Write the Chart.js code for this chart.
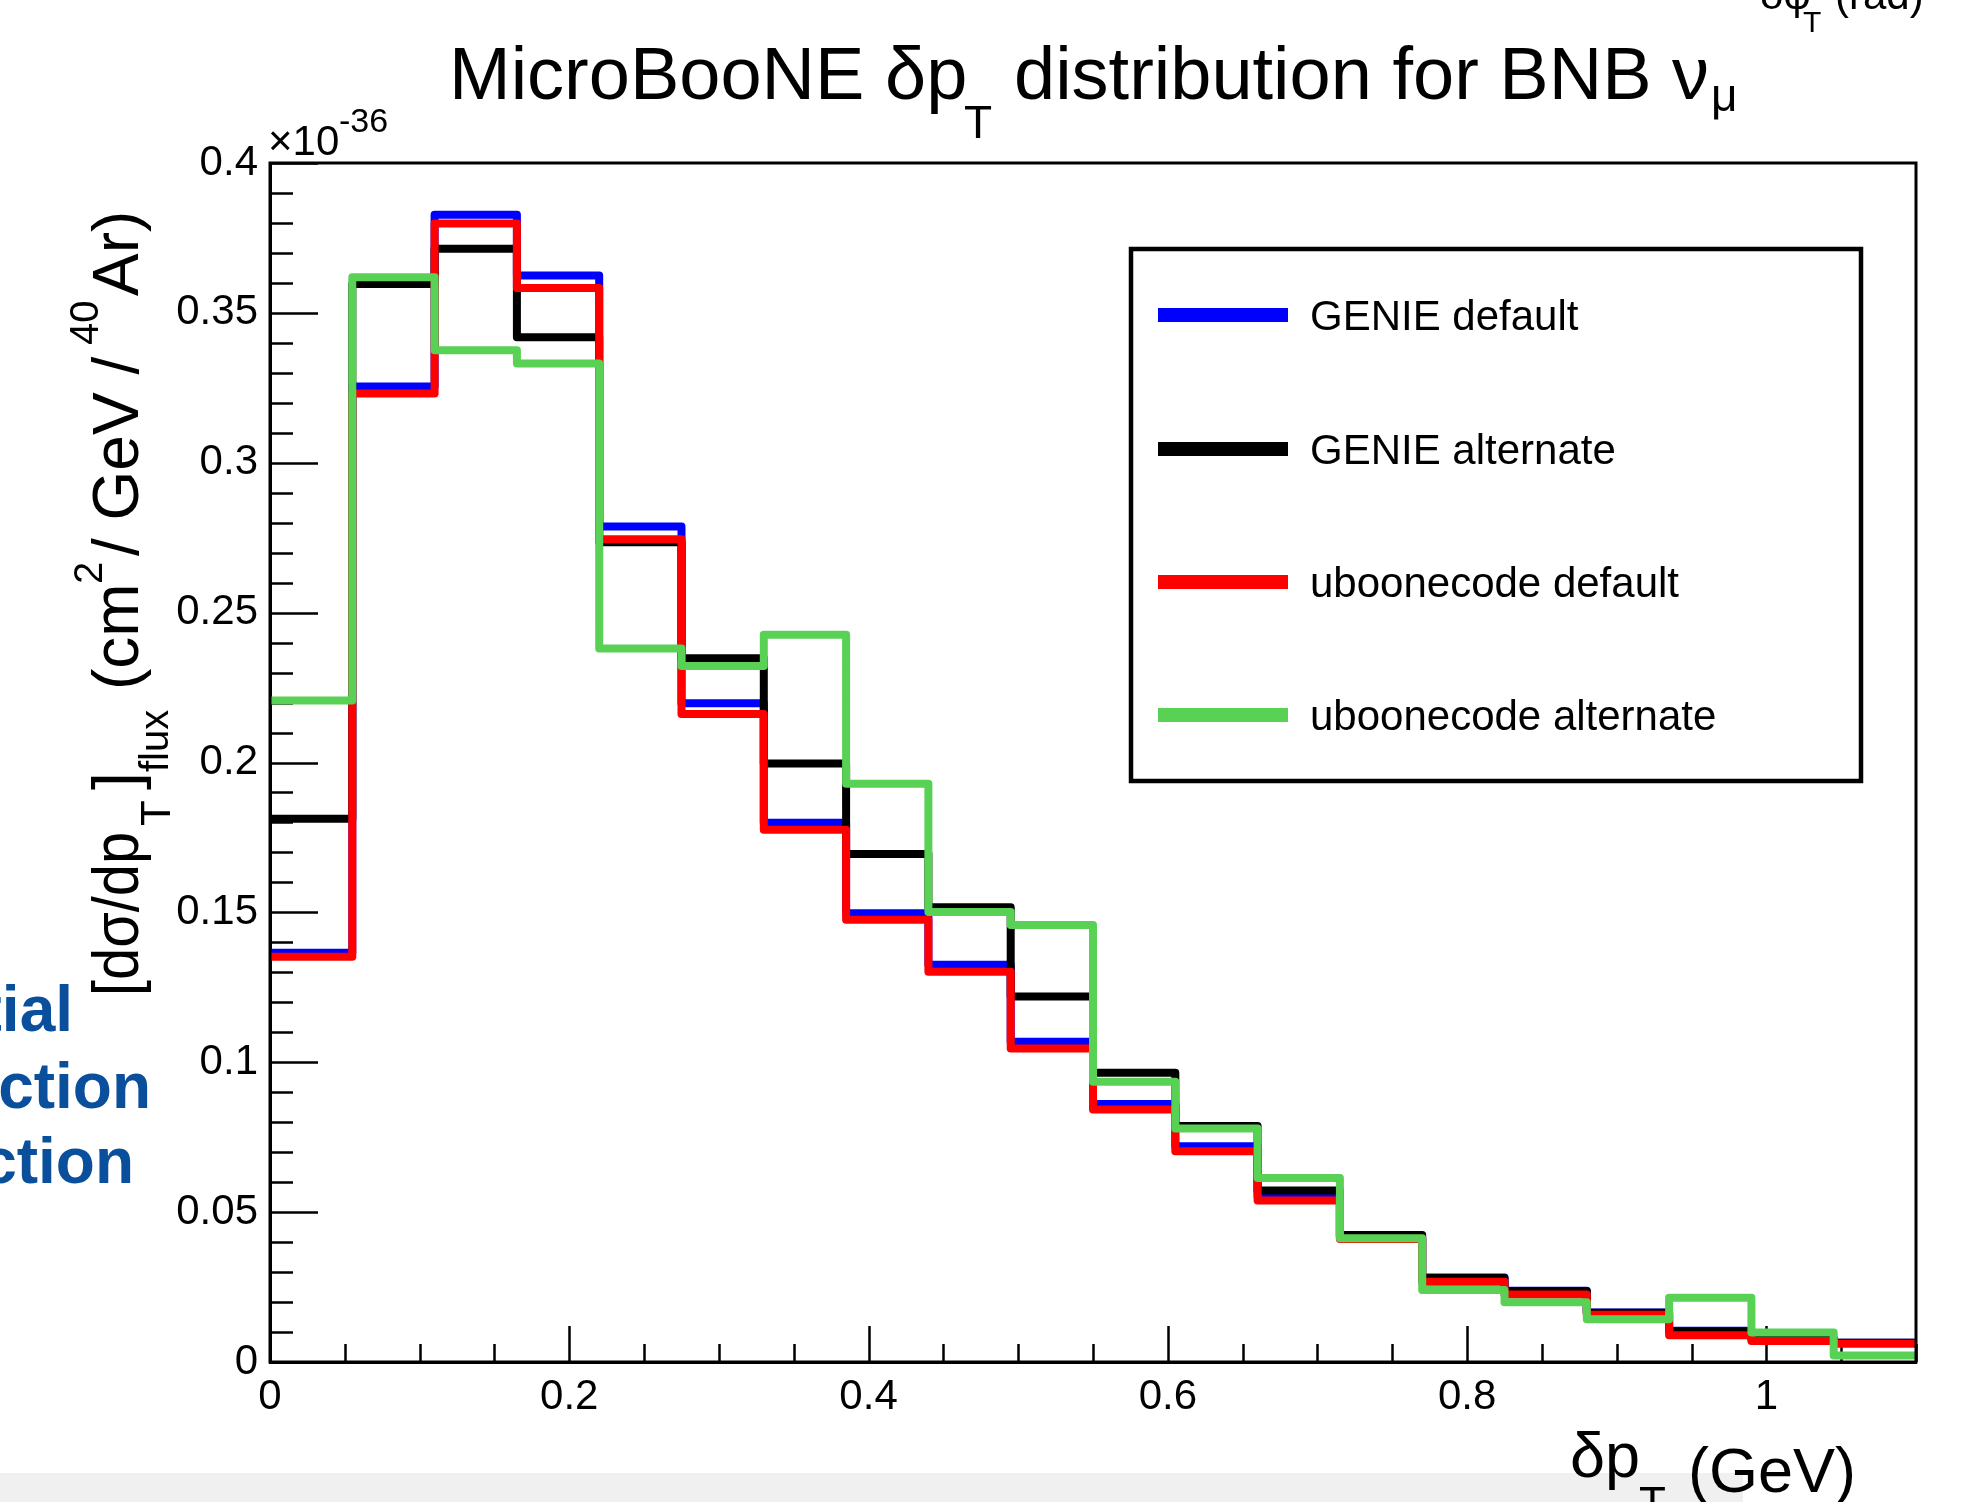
<!DOCTYPE html>
<html>
<head>
<meta charset="utf-8">
<script src="https://cdn.jsdelivr.net/npm/chart.js@4.4.1/dist/chart.umd.min.js"></script>
<style>
html,body{margin:0;padding:0;background:#fff;overflow:hidden}
#wrap{position:relative;width:1973px;height:1502px}
canvas{display:block}
</style>
</head>
<body>
<div id="wrap"><canvas id="c" width="1973" height="1502" style="width:1973px;height:1502px"></canvas></div>
<script>
// ---- data (units of 1e-36 cm^2 / GeV / 40Ar) ----
const binEdges = [0, 0.055, 0.11, 0.165, 0.22, 0.275, 0.33, 0.385, 0.44, 0.495, 0.55,
                  0.605, 0.66, 0.715, 0.77, 0.825, 0.88, 0.935, 0.99, 1.045, 1.1];
const genieDefault = [0.1365, 0.3254, 0.3827, 0.3625, 0.2787, 0.2198, 0.1799, 0.1497, 0.1325, 0.1068,
                      0.0861, 0.0720, 0.0552, 0.0415, 0.0282, 0.0238, 0.0165, 0.0104, 0.0078, 0.0064];
const genieAlternate = [0.1812, 0.3596, 0.3714, 0.3419, 0.2735, 0.2348, 0.1997, 0.1695, 0.1517, 0.1219,
                        0.0965, 0.0787, 0.0572, 0.0424, 0.0280, 0.0236, 0.0164, 0.0102, 0.0078, 0.0064];
const uboonecodeDefault = [0.1352, 0.3231, 0.3798, 0.3583, 0.2745, 0.2162, 0.1776, 0.1475, 0.1302, 0.1046,
                           0.0842, 0.0703, 0.0539, 0.0410, 0.0268, 0.0225, 0.0158, 0.0089, 0.0070, 0.0061];
const uboonecodeAlternate = [0.2207, 0.3619, 0.3375, 0.3331, 0.2380, 0.2322, 0.2426, 0.1929, 0.1501, 0.1458,
                             0.0935, 0.0779, 0.0614, 0.0413, 0.0240, 0.0199, 0.0143, 0.0214, 0.0098, 0.0022];
const seriesLabels = ['GENIE default', 'GENIE alternate', 'uboonecode default', 'uboonecode alternate'];
const xMajorValues = [0, 0.2, 0.4, 0.6, 0.8, 1];
const xTickLabels = ['0', '0.2', '0.4', '0.6', '0.8', '1'];
const yMajorValues = [0, 0.05, 0.1, 0.15, 0.2, 0.25, 0.3, 0.35, 0.4];
const yTickLabels = ['0', '0.05', '0.1', '0.15', '0.2', '0.25', '0.3', '0.35', '0.4'];

const FONT = '"Liberation Sans", Arial, Helvetica, sans-serif';
const colors = ['#0000ff', '#000000', '#ff0000', '#58d155'];

function histPoints(vals) {
  const pts = vals.map((v, i) => ({x: binEdges[i], y: v}));
  pts.push({x: binEdges[binEdges.length - 1], y: vals[vals.length - 1]});
  return pts;
}
function majorIndex(list, v) {
  for (let i = 0; i < list.length; i++) if (Math.abs(list[i] - v) < 1e-6) return i;
  return -1;
}

const seriesValues = [genieDefault, genieAlternate, uboonecodeDefault, uboonecodeAlternate];
const drawOrder = [3, 2, 1, 0]; // green on top, then red, black, blue
const datasets = seriesValues.map((vals, i) => ({
  label: seriesLabels[i],
  data: histPoints(vals),
  borderColor: colors[i],
  backgroundColor: colors[i],
  borderWidth: 8,
  stepped: 'before',
  pointRadius: 0,
  pointHoverRadius: 0,
  fill: false,
  tension: 0,
  borderJoinStyle: 'round',
  order: drawOrder[i]
}));

function txt(ctx, t, x, y, size, opts) {
  opts = opts || {};
  ctx.font = (opts.bold ? 'bold ' : '') + size + 'px ' + FONT;
  ctx.fillStyle = opts.color || '#000';
  ctx.textAlign = opts.align || 'left';
  ctx.textBaseline = 'alphabetic';
  if (opts.maxWidth) ctx.fillText(t, x, y, opts.maxWidth);
  else ctx.fillText(t, x, y);
}

const rootDecor = {
  id: 'rootDecor',
  beforeDraw(chart) {
    const ctx = chart.ctx;
    ctx.save();
    ctx.fillStyle = '#ffffff';
    ctx.fillRect(0, 0, chart.width, chart.height);
    ctx.restore();
  },
  beforeDatasetsDraw(chart) {
    const ctx = chart.ctx, ca = chart.chartArea;
    const xs = chart.scales.x, ys = chart.scales.y;
    ctx.save();
    ctx.strokeStyle = '#000';
    ctx.lineWidth = 2.5;
    ctx.beginPath();
    ys.ticks.forEach(t => {
      const p = Math.round(ys.getPixelForValue(t.value)) + 0.5;
      const len = majorIndex(yMajorValues, t.value) >= 0 ? 48 : 23;
      ctx.moveTo(ca.left, p); ctx.lineTo(ca.left + len, p);
    });
    xs.ticks.forEach(t => {
      const p = Math.round(xs.getPixelForValue(t.value)) + 0.5;
      const len = majorIndex(xMajorValues, t.value) >= 0 ? 36 : 18;
      ctx.moveTo(p, ca.bottom); ctx.lineTo(p, ca.bottom - len);
    });
    ctx.stroke();
    ctx.restore();
  },
  afterDraw(chart) {
    const ctx = chart.ctx, ca = chart.chartArea;
    ctx.save();
    // frame
    ctx.strokeStyle = '#000';
    ctx.lineWidth = 3;
    ctx.strokeRect(ca.left, ca.top, ca.right - ca.left, ca.bottom - ca.top);

    // legend box
    ctx.lineWidth = 4.5;
    ctx.strokeRect(1131, 249, 730, 532);
    const legY = [315, 449, 582, 715];
    chart.data.datasets.forEach((ds, i) => {
      ctx.fillStyle = ds.borderColor;
      ctx.fillRect(1158, legY[i] - 7, 130, 14);
      txt(ctx, ds.label, 1310, legY[i] + 15, 42);
    });

    // title
    txt(ctx, 'MicroBooNE', 449, 99, 74);
    txt(ctx, '\u03B4p', 885, 99, 74);
    txt(ctx, 'T', 964, 138, 46);
    txt(ctx, 'distribution for BNB \u03BD', 1014, 99, 74);
    txt(ctx, '\u03BC', 1711, 111, 46);

    // exponent
    txt(ctx, '\u00D710', 268, 155, 42);
    txt(ctx, '-36', 339, 132, 34);

    // cut-off label from neighbouring plot (top right)
    txt(ctx, '\u03B4\u03C6', 1760, 9, 42);
    txt(ctx, 'T', 1803, 32, 30);
    txt(ctx, '(rad)', 1835, 9, 42);

    // cut-off blue page text (left)
    const blue = '#0a4f9c';
    txt(ctx, 'tial', 73, 1031, 64, {bold: true, color: blue, align: 'right'});
    txt(ctx, 'ction', 151, 1108, 64, {bold: true, color: blue, align: 'right'});
    txt(ctx, 'ction', 134, 1183, 64, {bold: true, color: blue, align: 'right'});

    // page grey strip at bottom
    ctx.fillStyle = '#f0f0f0';
    ctx.fillRect(0, 1473, 1743, 29);

    // x-axis title
    txt(ctx, '\u03B4p', 1570, 1477, 63);
    txt(ctx, 'T', 1639, 1518, 44);
    txt(ctx, '(GeV)', 1688, 1492, 63);

    // y-axis title (rotated)
    ctx.save();
    ctx.rotate(-Math.PI / 2);
    txt(ctx, '[d\u03C3/dp', -996, 138, 64, {maxWidth: 164});
    txt(ctx, 'T', -826, 170, 42);
    txt(ctx, ']', -790, 138, 64);
    txt(ctx, 'flux', -772, 168, 40);
    txt(ctx, '(cm', -690, 138, 64);
    txt(ctx, '2', -584, 102, 40);
    txt(ctx, '/ GeV /', -556, 138, 64);
    txt(ctx, '40', -345, 98, 40);
    txt(ctx, 'Ar)', -296, 138, 64);
    ctx.restore();

    ctx.restore();
  }
};

new Chart(document.getElementById('c'), {
  type: 'line',
  data: {datasets},
  options: {
    responsive: false,
    animation: false,
    events: [],
    layout: {padding: {left: 0, right: 57, top: 163, bottom: 0}},
    plugins: {legend: {display: false}, title: {display: false}, tooltip: {enabled: false}},
    scales: {
      x: {
        type: 'linear',
        min: 0, max: 1.1,
        grid: {display: false, drawTicks: false},
        border: {display: true, color: '#000', width: 3},
        afterFit(s) { s.height = 140; },
        ticks: {
          stepSize: 0.05, autoSkip: false, maxRotation: 0, minRotation: 0, padding: 10,
          maxTicksLimit: 100,
          color: '#000', font: {family: FONT, size: 42},
          callback(v) { const k = majorIndex(xMajorValues, v); return k >= 0 ? xTickLabels[k] : ''; }
        }
      },
      y: {
        type: 'linear',
        min: 0, max: 0.4,
        grid: {display: false, drawTicks: false},
        border: {display: true, color: '#000', width: 3},
        afterFit(s) { s.width = 270; },
        ticks: {
          stepSize: 0.01, autoSkip: false, padding: 12,
          maxTicksLimit: 100,
          color: '#000', font: {family: FONT, size: 42},
          callback(v) { const k = majorIndex(yMajorValues, v); return k >= 0 ? yTickLabels[k] : ''; }
        }
      }
    }
  },
  plugins: [rootDecor]
});
</script>
</body>
</html>
